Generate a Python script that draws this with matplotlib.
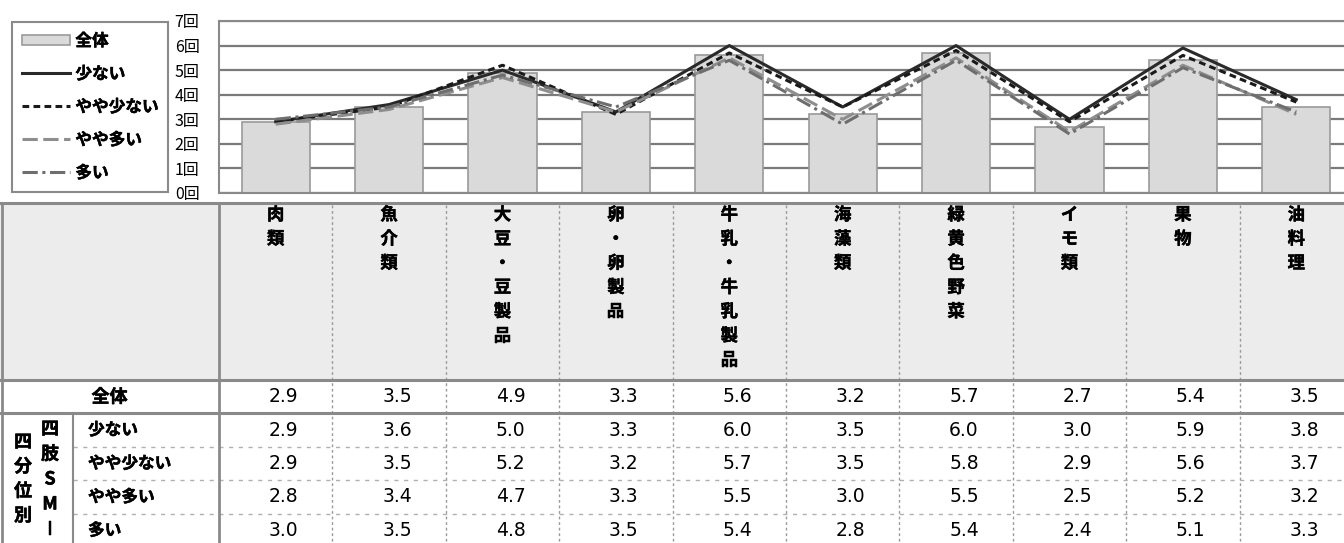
import matplotlib
matplotlib.use("Agg")
import matplotlib.pyplot as plt
import matplotlib.transforms as mtransforms
import matplotlib.patheffects as pe
from matplotlib.patches import Patch, Rectangle
from matplotlib.lines import Line2D

# data
categories = ['肉類', '魚介類', '大豆・豆製品', '卵・卵製品', '牛乳・牛乳製品',
              '海藻類', '緑黄色野菜', 'イモ類', '果物', '油料理']
overall = [2.9, 3.5, 4.9, 3.3, 5.6, 3.2, 5.7, 2.7, 5.4, 3.5]
low = [2.9, 3.6, 5.0, 3.3, 6.0, 3.5, 6.0, 3.0, 5.9, 3.8]
somewhat_low = [2.9, 3.5, 5.2, 3.2, 5.7, 3.5, 5.8, 2.9, 5.6, 3.7]
somewhat_high = [2.8, 3.4, 4.7, 3.3, 5.5, 3.0, 5.5, 2.5, 5.2, 3.2]
high = [3.0, 3.5, 4.8, 3.5, 5.4, 2.8, 5.4, 2.4, 5.1, 3.3]
series_names = ['少ない', 'やや少ない', 'やや多い', '多い']
overall_name = '全体'
ytick_labels = ['0回', '1回', '2回', '3回', '4回', '5回', '6回', '7回']
group_label = '四分位別'
group_sub = '四肢SMI'

CJK = ['Noto Sans CJK JP', 'DejaVu Sans']
BOLD = [pe.withStroke(linewidth=0.35, foreground='black')]  # slightly heavier weight
W, H = 1344, 543
fig = plt.figure(figsize=(W / 100, H / 100), dpi=100)

# overlay axes in pixel coordinates (for table lines and labels)
ov = fig.add_axes([0, 0, 1, 1])
ov.set_xlim(0, W)
ov.set_ylim(H, 0)
ov.axis('off')

# chart axes: 10 slots, right edge runs past the figure
x0, x1 = 219, 1353
top, bot = 21, 193
ax = fig.add_axes([x0 / W, 1 - bot / H, (x1 - x0) / W, (bot - top) / H])
n = len(categories)
xs = list(range(n))
ax.set_xlim(-0.5, n - 0.5)
ax.set_ylim(0, 7)
ax.set_yticks(range(8))
ax.set_yticklabels(ytick_labels, family=CJK, fontsize=11.5)
ax.tick_params(axis='y', length=0, pad=14)
ax.set_xticks([])
for s in ax.spines.values():
    s.set_color('#8a8a8a')
    s.set_linewidth(1.5)
ax.yaxis.grid(True, color='#7a7a7a', lw=1.6)
ax.set_axisbelow(True)

ax.bar(xs, overall, width=0.6, color='#dadada', edgecolor='#9a9a9a', lw=1.2, zorder=2)

styles = [
    dict(color='#2a2a2a', ls='-'),
    dict(color='#1a1a1a', ls=(0, (2.2, 1.4))),
    dict(color='#8e8e8e', ls=(0, (5, 1.8))),
    dict(color='#6e6e6e', ls=(0, (5, 1.5, 1, 1.5))),
]
for vals, name, st in zip([low, somewhat_low, somewhat_high, high], series_names, styles):
    ax.plot(xs, vals, lw=2.2, zorder=3, label=name, **st)

# legend
handles = [Patch(facecolor='#dadada', edgecolor='#9a9a9a', lw=1.2)]
handles += [Line2D([], [], lw=2.2, **st) for st in styles]
leg = fig.legend(handles, [overall_name] + series_names, loc='upper left',
                 bbox_to_anchor=(12 / W, 1 - 22 / H), borderaxespad=0,
                 prop=dict(family=CJK, weight='bold', size=12),
                 handlelength=2.9, handleheight=0.6, labelspacing=0.9,
                 handletextpad=0.3, borderpad=0.6, fancybox=False,
                 edgecolor='#8a8a8a', framealpha=1)
leg.get_frame().set_linewidth(1.5)
for t in leg.get_texts():
    t.set_path_effects(BOLD)

# table
tf = mtransforms.blended_transform_factory(ax.transData, ov.transData)
gray = '#8a8a8a'
ov.add_patch(Rectangle((0, 203), W, 177, facecolor='#ececec', edgecolor='none', zorder=0))
for y in [203, 380, 413]:
    ov.plot([0, W], [y, y], color=gray, lw=2.2, zorder=2)
ov.plot([1.5, 1.5], [203, H], color=gray, lw=2, zorder=2)
ov.plot([x0, x0], [203, H], color=gray, lw=2, zorder=2)
ov.plot([73, 73], [413, H], color=gray, lw=1.5, zorder=2)
for i in range(1, n):
    ax_x = i - 0.5
    ov.plot([ax_x, ax_x], [205, H], color='#9a9a9a', lw=1, ls=(0, (2, 2)), transform=tf, zorder=1)
for y in [447, 480, 514]:
    ov.plot([73, W], [y, y], color='#b0b0b0', lw=1, ls=(0, (3, 4)), zorder=1)

# header (vertical text)
for i, cat in enumerate(categories):
    for k, ch in enumerate(cat):
        ov.text(i, 215 + k * 24.2, ch, transform=tf, ha='center', va='center',
                family=CJK, weight='bold', fontsize=12.5, path_effects=BOLD)

# value rows
row_y = [397, 430, 463.5, 497, 530.5]
for vals, y in zip([overall, low, somewhat_low, somewhat_high, high], row_y):
    for i, v in enumerate(vals):
        ov.text(i + 0.07, y, f'{v:.1f}', transform=tf, ha='center', va='center',
                family='DejaVu Sans', fontsize=13.5)

ov.text(x0 / 2, row_y[0], overall_name, ha='center', va='center',
        family=CJK, weight='bold', fontsize=13, path_effects=BOLD)
for name, y in zip(series_names, row_y[1:]):
    ov.text(88, y, name, ha='left', va='center', family=CJK, weight='bold',
            fontsize=12, path_effects=BOLD)

for k, ch in enumerate(group_label):
    ov.text(23, 442 + k * 24.5, ch, ha='center', va='center', family=CJK,
            weight='bold', fontsize=13, path_effects=BOLD)
for k, ch in enumerate(group_sub):
    ov.text(50, 429 + k * 25, ch, ha='center', va='center', family=CJK,
            weight='bold', fontsize=13, path_effects=BOLD)

fig.savefig('out.png', dpi=100)
